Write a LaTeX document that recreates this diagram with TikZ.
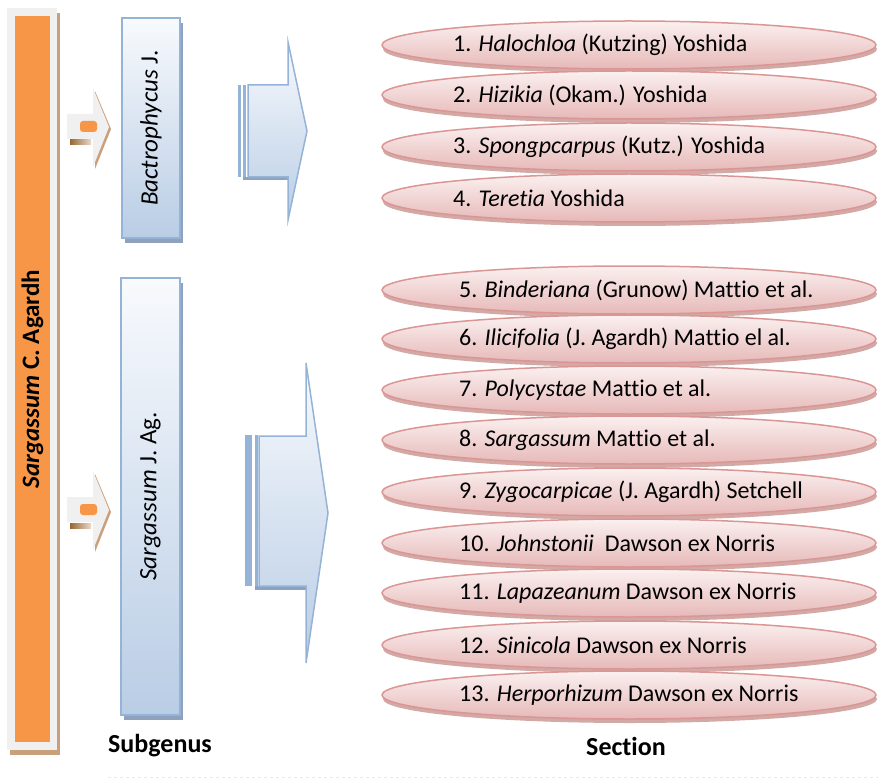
\documentclass[tikz,border=0pt]{standalone}
\usepackage{fontspec}
\setmainfont{Carlito}[Ligatures=NoCommon]
\usetikzlibrary{shapes.geometric,shadows}
\definecolor{genusorange}{HTML}{F79646}
\definecolor{genusframe}{HTML}{F0F0F0}
\definecolor{genusshade}{HTML}{C9A07C}
\definecolor{subline}{HTML}{95B3D7}
\definecolor{subtop}{HTML}{F8FAFD}
\definecolor{subbot}{HTML}{B9CDE5}
\definecolor{subshade}{HTML}{8EA2BE}
\definecolor{sectline}{HTML}{D99694}
\definecolor{secttop}{HTML}{FBF0F0}
\definecolor{sectbot}{HTML}{E6B9B8}
\definecolor{sectshade}{HTML}{C89390}
\tikzset{
  sect/.style={ellipse,draw=sectline,line width=1.5pt,top color=secttop,bottom color=sectbot,
    minimum width=494pt,minimum height=48pt,inner sep=0pt,
    drop shadow={shadow xshift=1pt,shadow yshift=-4pt,fill=sectshade,opacity=.8}},
  secttext/.style={anchor=west,inner sep=0pt,font=\fontsize{24}{28}\selectfont},
  subbox/.style={draw=subline,line width=1.5pt,top color=subtop,bottom color=subbot,inner sep=0pt,
    font=\fontsize{25}{30}\selectfont,
    drop shadow={shadow xshift=3pt,shadow yshift=-5pt,fill=subshade,opacity=1}},
  bigarrow/.style={draw=subline,line width=1.5pt,top color=subtop,bottom color=subbot},
  caption/.style={font=\fontsize{26}{30}\selectfont\bfseries}
}
\begin{document}
\begin{tikzpicture}[x=1pt,y=-1pt]
\useasboundingbox (0,0) rectangle (878,778);
\fill[genusshade] (10,13) rectangle (60,755);
\fill[genusframe] (7,8) rectangle (57,750);
\node[fill=genusorange,minimum width=35pt,minimum height=726pt,inner sep=0pt,
  font=\fontsize{25}{30}\selectfont\bfseries] (genus) at (32.5,379)
  {\rotatebox{90}{\textit{Sargassum} C. Agardh}};
\foreach \ay in {127,510}{
  \begin{scope}[shift={(0,\ay)}]
  \fill[genusshade] (95,-36)--(111,2)--(95,42)--cycle;
  \fill[genusframe] (67,-13)--(93,-13)--(93,-39)--(109,0)--(93,40)--(93,12)--(67,12)--cycle;
  \shade[left color=brown!80!black,right color=genusshade!40] (70,13) rectangle (91,18);
  \fill[genusorange,rounded corners=3pt] (80,-6) rectangle (97,5);
  \end{scope}
}
\node[subbox,minimum width=58pt,minimum height=220pt] (bact) at (151,128)
  {\rotatebox{90}{\textit{Bactrophycus} J.}};
\node[subbox,minimum width=59pt,minimum height=437pt] (sarg) at (150.5,496.5)
  {\rotatebox{90}{\textit{Sargassum} J. Ag.}};
\fill[subline] (238,85) rectangle (241,177);
\fill[subline] (243,85) rectangle (246,177);
\fill[subshade] (243,177) rectangle (288,180);
\draw[bigarrow] (248,85)--(288,85)--(288,42)--(307,131)--(288,220)--(288,177)--(248,177)--cycle;
\fill[subline] (245,435) rectangle (252,586);
\fill[subline] (255,435) rectangle (258,586);
\fill[subshade] (255,586) rectangle (306,590);
\draw[bigarrow] (259,436)--(306,436)--(306,363)--(328,513)--(306,663)--(306,586)--(259,586)--cycle;
\foreach \i/\y/\x/\t in {
  1/45/453/{1. \textit{Halochloa} (Kutzing) Yoshida},
  2/95/453/{2. \textit{Hizikia} (Okam.) Yoshida},
  3/147/453/{3. \textit{Spongpcarpus} (Kutz.) Yoshida},
  4/198/453/{4. \textit{Teretia} Yoshida},
  5/290/459/{5. \textit{Binderiana} (Grunow) Mattio et al.},
  6/339/459/{6. \textit{Ilicifolia} (J. Agardh) Mattio el al.},
  7/390/459/{7. \textit{Polycystae} Mattio et al.},
  8/440/459/{8. \textit{Sargassum} Mattio et al.},
  9/492/459/{9. \textit{Zygocarpicae} (J. Agardh) Setchell},
  10/543/459/{10. \textit{Johnstonii}\ \ Dawson ex Norris},
  11/593/459/{11. \textit{Lapazeanum} Dawson ex Norris},
  12/645/459/{12. \textit{Sinicola} Dawson ex Norris},
  13/695/459/{13. \textit{Herporhizum} Dawson ex Norris}}{
  \node[sect] (e\i) at (629,\y) {};
  \node[secttext] (t\i) at (\x,\y) {\t};
}
\node[caption] (subgenus) at (160,746) {Subgenus};
\node[caption] (section) at (626,746) {Section};
\draw[genusshade!25,dashed,line width=1pt] (108,777)--(878,777);
\end{tikzpicture}
\end{document}
